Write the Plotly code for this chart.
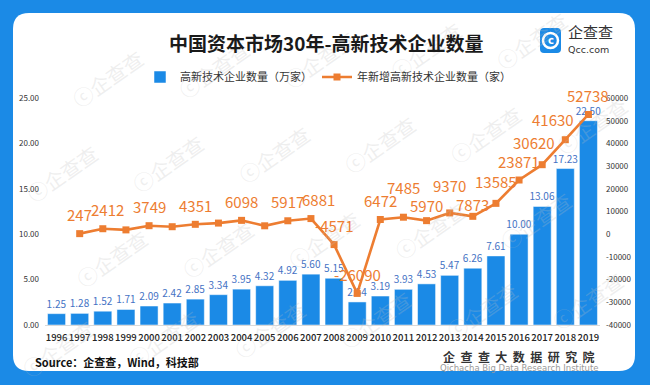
import plotly.graph_objects as go

# ---------------- data ----------------
years = [str(y) for y in range(1996, 2020)]
firms_wan = [1.25, 1.28, 1.52, 1.71, 2.09, 2.42, 2.85, 3.34, 3.95, 4.32, 4.92, 5.60,
             5.15, 2.54, 3.19, 3.93, 4.53, 5.47, 6.26, 7.61, 10.00, 13.06, 17.23, 22.50]
new_years = years[1:]
new_firms = [247, 2412, 1900, 3749, 3300, 4351, 4900, 6098, 3700, 5917, 6881, -4571,
             -26090, 6472, 7485, 5970, 9370, 7873, 13585, 23871, 30620, 41630, 52738]
hidden_label_years = {"1999", "2001", "2003", "2005"}
left_ticks = [0, 5, 10, 15, 20, 25]
right_ticks = [-40000, -30000, -20000, -10000, 0, 10000, 20000, 30000, 40000, 50000, 60000]
right_tick_text = [str(v) for v in right_ticks]

title_text = "中国资本市场30年-高新技术企业数量"
bar_name = "高新技术企业数量（万家）"
line_name = "年新增高新技术企业数量（家）"

# ---------------- style ----------------
W, H = 650, 385
ML, MR, MT, MB = 45, 50, 98, 60
PW, PH = W - ML - MR, H - MT - MB
BLUE = "#1B8AE6"
ORANGE = "#ED7D31"
LABEL_BLUE = "#4472C4"
FONT = "Noto Sans CJK SC"

# label nudges (pixels) for the orange value labels
nudge = {"1998": (5, 0), "2007": (8, 0), "2011": (0, 11), "2012": (0, -4),
         "2013": (0, 8), "2014": (0, -7), "2015": (0, 3), "2017": (-8, 3), "2018": (-12, 1)}


def px2paper(x, y):
    return (x - ML) / PW, (H - MB - y) / PH


def paper_note(x, y, text, font, xanchor="center", **kw):
    px, py = px2paper(x, y)
    d = dict(x=px, y=py, xref="paper", yref="paper", text=text, showarrow=False,
             xanchor=xanchor, yanchor="middle", font=font)
    d.update(kw)
    return d


fig = go.Figure()

fig.add_trace(go.Bar(
    x=years, y=firms_wan, name=bar_name,
    marker=dict(color=BLUE, line=dict(color="rgba(255,255,255,0.5)", width=1)),
    width=0.78,
    text=[f"{v:.2f}" for v in firms_wan], textposition="outside",
    textfont=dict(color=LABEL_BLUE, size=10, family=FONT),
    constraintext="none", cliponaxis=False,
))

fig.add_trace(go.Scatter(
    x=new_years, y=new_firms, name=line_name, yaxis="y2",
    mode="lines+markers",
    line=dict(color=ORANGE, width=2.6),
    marker=dict(symbol="square", size=7, color=ORANGE),
    cliponaxis=False,
))

annotations = []
# watermarks (kept inside the picture)
wm_rows = [(75, 78), (165, 32), (255, 82), (340, 28)]
for (ry, x0) in wm_rows:
    for k in range(6):
        cx = x0 + 106 * k
        if cx + 30 > 600:
            continue
        cy = ry - 0.09 * (cx - 300)
        annotations.append(paper_note(cx + 30, cy - 16, "ⓒ企查查",
                                      dict(color="rgba(190,190,190,0.25)", size=20, family=FONT),
                                      textangle=-35))

for yr, v in zip(new_years, new_firms):
    if yr in hidden_label_years:
        continue
    dx, dy = nudge.get(yr, (0, 0))
    annotations.append(dict(
        x=years.index(yr), y=v, xref="x", yref="y2", text=str(v), showarrow=False,
        xshift=dx, yshift=19 + dy, xanchor="center", yanchor="middle",
        font=dict(color=ORANGE, size=15, family=FONT),
    ))

annotations.append(paper_note(326, 43, title_text,
                              dict(size=19, color="#1a1a1a", family=FONT, weight="bold")))
annotations.append(paper_note(33, 362, "Source：企查查，Wind，科技部",
                              dict(size=11, color="#111", family=FONT, weight="bold"),
                              xanchor="left"))
gap = " \u00a0"
annotations.append(paper_note(519, 356, gap.join("企查查大数据研究院"),
                              dict(size=12, color="#333", family=FONT, weight="bold")))
annotations.append(paper_note(519, 368, "Qichacha Big Data Research Institute",
                              dict(size=8.5, color="#9a9a9a", family="DejaVu Sans")))
annotations.append(paper_note(566, 32, "企查查", dict(size=15, color="#333", family=FONT),
                              xanchor="left"))
annotations.append(paper_note(566, 49, "Qcc.com", dict(size=9.5, color="#333", family="DejaVu Sans"),
                              xanchor="left"))
annotations.append(paper_note(550.5, 40.5, "c",
                              dict(size=10, color="white", family="DejaVu Sans", weight="bold")))


def rounded_rect(x0, y0, x1, y1, r):
    def P(x, y):
        a, b = px2paper(x, y)
        return f"{a:.5f},{b:.5f}"
    return (f"M {P(x0 + r, y0)} L {P(x1 - r, y0)} Q {P(x1, y0)} {P(x1, y0 + r)} "
            f"L {P(x1, y1 - r)} Q {P(x1, y1)} {P(x1 - r, y1)} "
            f"L {P(x0 + r, y1)} Q {P(x0, y1)} {P(x0, y1 - r)} "
            f"L {P(x0, y0 + r)} Q {P(x0, y0)} {P(x0 + r, y0)} Z")


c0x, c0y = px2paper(543, 33)
c1x, c1y = px2paper(558, 48)
shapes = [
    dict(type="path", xref="paper", yref="paper", path=rounded_rect(13, 13, 635, 371, 16),
         fillcolor="white", line=dict(width=0), layer="below"),
    dict(type="path", xref="paper", yref="paper", path=rounded_rect(540, 28, 561, 53, 4),
         fillcolor=BLUE, line=dict(width=0), layer="above"),
    dict(type="circle", xref="paper", yref="paper", x0=c0x, y0=c0y, x1=c1x, y1=c1y,
         line=dict(color="white", width=2.5), fillcolor="rgba(0,0,0,0)", layer="above"),
]

lgx, lgy = px2paper(140, 77)
fig.update_layout(
    width=W, height=H,
    margin=dict(l=ML, r=MR, t=MT, b=MB, pad=0, autoexpand=False),
    paper_bgcolor=BLUE, plot_bgcolor="rgba(0,0,0,0)",
    font=dict(family=FONT, color="#222"),
    showlegend=True,
    legend=dict(orientation="h", x=lgx, y=lgy, xanchor="left", yanchor="middle",
                font=dict(size=11, color="#333", family=FONT),
                bgcolor="rgba(0,0,0,0)", itemwidth=30),
    xaxis=dict(type="category", showgrid=False, showline=True, linecolor="#d9d9d9",
               linewidth=1, ticks="", tickangle=0, ticklabelstandoff=4,
               tickfont=dict(size=9.5, color="#222", family=FONT, weight=500),
               range=[-0.5, len(years) - 0.5], automargin=False),
    yaxis=dict(range=[0, 25], tickvals=left_ticks, tickformat=".2f", showgrid=False,
               zeroline=False, ticks="", automargin=False, ticklabelstandoff=5,
               tickfont=dict(size=8, color="#333", family=FONT)),
    yaxis2=dict(range=[-40000, 60000], overlaying="y", side="right", tickvals=right_ticks,
                ticktext=right_tick_text, showgrid=False, zeroline=False, ticks="",
                automargin=False, ticklabelstandoff=5,
                tickfont=dict(size=8, color="#333", family=FONT)),
    annotations=annotations,
    shapes=shapes,
)

fig.write_html("out.html", config={"displayModeBar": False},
               post_script="document.body.style.margin='0px';")
